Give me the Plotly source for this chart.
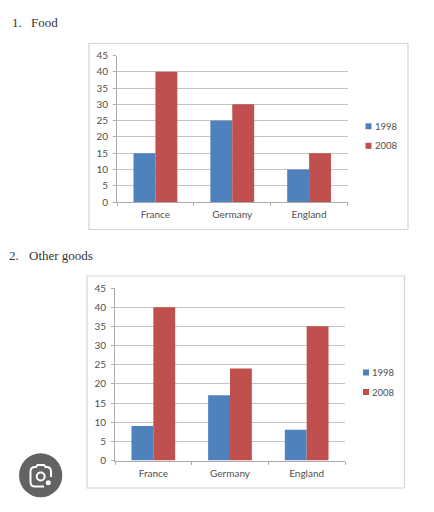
import plotly.graph_objects as go

W, H = 434, 512
countries = ["France", "Germany", "England"]
food_1998 = [15, 25, 10]
food_2008 = [40, 30, 15]
other_1998 = [9, 17, 8]
other_2008 = [40, 24, 35]
y_ticks = list(range(0, 50, 5))
series_names = ["1998", "2008"]
BLUE, RED = "#4f81bd", "#c0504d"
GRID, AXIS, TXT = "#c4c4c4", "#ababab", "#505050"
SANS = "Lato, Open Sans, sans-serif"
SERIF = "Liberation Serif, serif"

def px(x): return x / W
def py(y): return 1 - y / H

fig = go.Figure()
for xa, ya, a, b in [("x", "y", food_1998, food_2008), ("x2", "y2", other_1998, other_2008)]:
    fig.add_bar(x=countries, y=a, name=series_names[0], marker=dict(color=BLUE, line=dict(width=0)),
                xaxis=xa, yaxis=ya, showlegend=False)
    fig.add_bar(x=countries, y=b, name=series_names[1], marker=dict(color=RED, line=dict(width=0)),
                xaxis=xa, yaxis=ya, showlegend=False)

def yaxis(top, bottom, anchor):
    return dict(domain=[py(bottom), py(top)], range=[0, 45], tickvals=y_ticks, anchor=anchor,
                showgrid=True, gridcolor=GRID, gridwidth=1.2, showline=True, linecolor=AXIS,
                ticks="outside", ticklen=3, tickcolor=AXIS, zeroline=False,
                tickfont=dict(family=SANS, size=10, color=TXT), ticklabelstandoff=3)

def xaxis(left, right, anchor):
    return dict(domain=[px(left), px(right)], anchor=anchor, type="category",
                tickson="boundaries", ticks="outside", ticklen=3, tickcolor=AXIS,
                showline=True, linecolor=AXIS, showgrid=False,
                tickfont=dict(family=SANS, size=10, color=TXT), ticklabelstandoff=3)

def rect(x0, y0, x1, y1, **kw):
    return dict(type="rect", xref="paper", yref="paper", x0=px(x0), x1=px(x1), y0=py(y1), y1=py(y0), **kw)

def circ(x0, y0, x1, y1, **kw):
    return dict(type="circle", xref="paper", yref="paper", x0=px(x0), x1=px(x1), y0=py(y1), y1=py(y0), **kw)

def P(x, y): return f"{px(x):.5f},{py(y):.5f}"

frame_path = ("M" + P(44, 486.5) + " L" + P(35, 486.5) + " Q" + P(30.5, 486.5) + " " + P(30.5, 482)
              + " L" + P(30.5, 471.5) + " Q" + P(30.5, 467) + " " + P(35, 467) + " L" + P(36, 467)
              + " L" + P(37.5, 465) + " L" + P(44, 465) + " L" + P(45.5, 467) + " L" + P(46.5, 467)
              + " Q" + P(51, 467) + " " + P(51, 471.5) + " L" + P(51, 477))

shapes = [
    rect(89, 43.5, 408, 229.5, line=dict(color="#d4d4d4", width=1.2), layer="below"),
    rect(87, 276, 404.5, 488, line=dict(color="#d4d4d4", width=1.2), layer="below"),
    circ(19, 453.3, 62.3, 497.3, fillcolor="#636363", line=dict(width=0), layer="above"),
    dict(type="path", xref="paper", yref="paper", path=frame_path, line=dict(color="white", width=2), layer="above"),
    circ(36.7, 472.5, 44.7, 480.5, line=dict(color="white", width=2), layer="above"),
    circ(45.8, 480.2, 50.8, 485.2, fillcolor="white", line=dict(width=0), layer="above"),
]

annotations = []
def label(text, x, y, family=SANS, size=10, color=TXT):
    annotations.append(dict(text=text, x=px(x), y=py(y), xanchor="left", yanchor="middle",
                            xref="paper", yref="paper", showarrow=False,
                            font=dict(family=family, size=size, color=color)))

for t, x, y in [("1.", 10, 22), ("Food", 29, 22), ("2.", 7, 255), ("Other goods", 26.5, 255)]:
    label(t, x, y, SERIF, 13, "#333333")

for lx, ly in [(365.5, 126.3), (363, 372.5)]:
    for name, col, dy in [(series_names[0], BLUE, 0), (series_names[1], RED, 19.5)]:
        shapes.append(rect(lx, ly + dy - 3, lx + 6, ly + dy + 3, fillcolor=col, line=dict(width=0)))
        label(name, lx + 7, ly + dy, size=9.5)

fig.update_layout(
    width=W, height=H, margin=dict(l=0, r=0, t=0, b=0, autoexpand=False), autosize=False,
    paper_bgcolor="white", plot_bgcolor="white", barmode="group", bargap=0.43, bargroupgap=0,
    xaxis=xaxis(117, 347.5, "y"), yaxis=yaxis(55.5, 202, "x"),
    xaxis2=xaxis(115, 345, "y2"), yaxis2=yaxis(288, 460.5, "x2"),
    shapes=shapes, annotations=annotations, showlegend=False,
)
fig.write_html("out.html", config=dict(displayModeBar=False),
               post_script="document.body.style.margin='0';window.dispatchEvent(new Event('resize'));")
